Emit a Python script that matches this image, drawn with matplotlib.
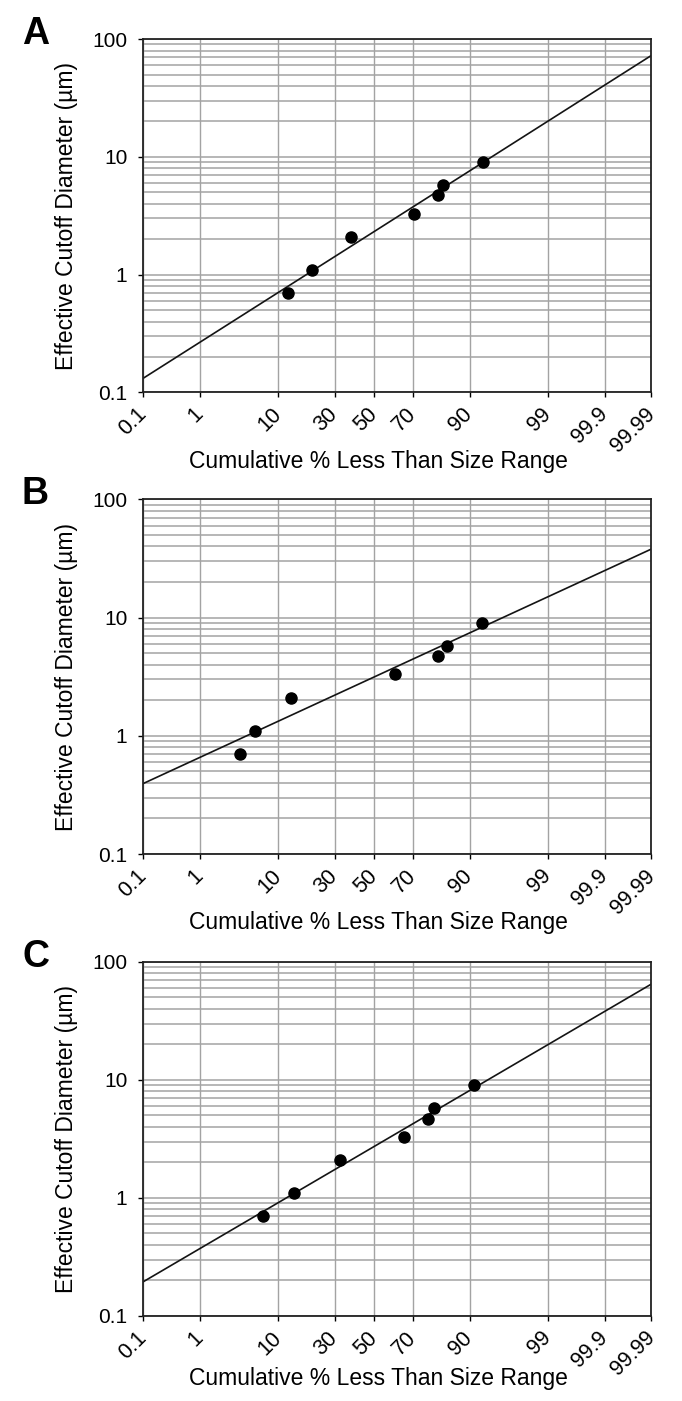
import numpy as np
from statistics import NormalDist
from matplotlib import pyplot as plt
from matplotlib import ticker

# cumulative % less than size range, one list per panel
pct_a = [12.5, 20.4, 37.7, 70.4, 80.4, 82.2, 92.9]
pct_b = [3.6, 5.6, 13.2, 61.1, 80.6, 83.7, 92.6]
pct_c = [6.8, 14.1, 32.3, 65.8, 76.7, 79.0, 91.1]
# effective cutoff diameter (um), same stages in every panel
diam = [0.7, 1.1, 2.1, 3.3, 4.7, 5.8, 9.0]

# fitted lognormal lines, read at the two ends of the x axis
fit_pct = [0.1, 99.99]
fit_a = [0.132, 72.7]
fit_b = [0.395, 38.0]
fit_c = [0.195, 65.0]

xticks = [0.1, 1, 10, 30, 50, 70, 90, 99, 99.9, 99.99]
xticklabels = ['0.1', '1', '10', '30', '50', '70', '90', '99', '99.9', '99.99']
yticks = [0.1, 1, 10, 100]
yticklabels = ['0.1', '1', '10', '100']

panels = [('A', pct_a, fit_a), ('B', pct_b, fit_b), ('C', pct_c, fit_c)]

plt.rcParams['font.family'] = ['Liberation Sans', 'DejaVu Sans']

_nd = NormalDist()
_inv_cdf = np.vectorize(_nd.inv_cdf, otypes=[float])
_cdf = np.vectorize(_nd.cdf, otypes=[float])


def prob_fwd(p):
    p = np.clip(np.asarray(p, dtype=float) / 100.0, 1e-9, 1 - 1e-9)
    return _inv_cdf(p)


def prob_inv(z):
    return _cdf(np.asarray(z, dtype=float)) * 100.0


fig = plt.figure(figsize=(6.82, 14.01), dpi=100)

# axes boxes in figure fractions (left, bottom, width, height)
boxes = [(0.2101, 0.7199, 0.7451, 0.2522),
         (0.2101, 0.3904, 0.7451, 0.2532),
         (0.2101, 0.0607, 0.7451, 0.2527)]
xlabel_y = [-0.213, -0.210, -0.194]

grid_col = '#a3a3a3'

for (letter, pct, fit), box, ly in zip(panels, boxes, xlabel_y):
    ax = fig.add_axes(box)
    ax.set_xscale('function', functions=(prob_fwd, prob_inv))
    ax.set_yscale('log')
    ax.set_xlim(0.1, 99.99)
    ax.set_ylim(0.1, 100)
    ax.set_axisbelow(True)

    ax.plot(fit_pct, fit, color='#141414', lw=1.2)
    ax.plot(pct, diam, 'o', color='black', ms=8, mec='black')

    ax.set_xticks(xticks)
    ax.set_xticklabels(xticklabels)
    ax.xaxis.set_minor_locator(ticker.NullLocator())
    ax.set_yticks(yticks)
    ax.set_yticklabels(yticklabels)
    ax.yaxis.set_minor_locator(ticker.LogLocator(base=10, subs=np.arange(2, 10)))
    ax.yaxis.set_minor_formatter(ticker.NullFormatter())

    ax.grid(True, axis='y', which='both', color=grid_col, lw=1.1)
    ax.grid(True, axis='x', which='major', color=grid_col, lw=1.0)

    ax.tick_params(axis='both', which='major', direction='out', length=3.5,
                   width=1.0, labelsize=15, colors='black')
    ax.tick_params(axis='x', pad=10, labelsize=15.5, labelrotation=45)
    ax.tick_params(axis='y', pad=8)
    ax.tick_params(axis='y', which='minor', length=0)
    plt.setp(ax.get_xticklabels(), ha='right', va='center', rotation_mode='anchor')

    for sp in ax.spines.values():
        sp.set_color('#222222')
        sp.set_linewidth(1.3)

    ax.set_xlabel('Cumulative % Less Than Size Range', fontsize=16.5)
    ax.xaxis.set_label_coords(0.462, ly)
    ax.xaxis.label.set_va('baseline')
    ax.set_ylabel('Effective Cutoff Diameter (µm)', fontsize=16.5)
    ax.yaxis.set_label_coords(-0.1507, 0.5)
    ax.yaxis.label.set_va('center')

    ax.text(-0.212, 1.015, letter, transform=ax.transAxes, fontsize=27,
            fontweight='bold', ha='center', va='center')

plt.savefig('out.png', dpi=100)
